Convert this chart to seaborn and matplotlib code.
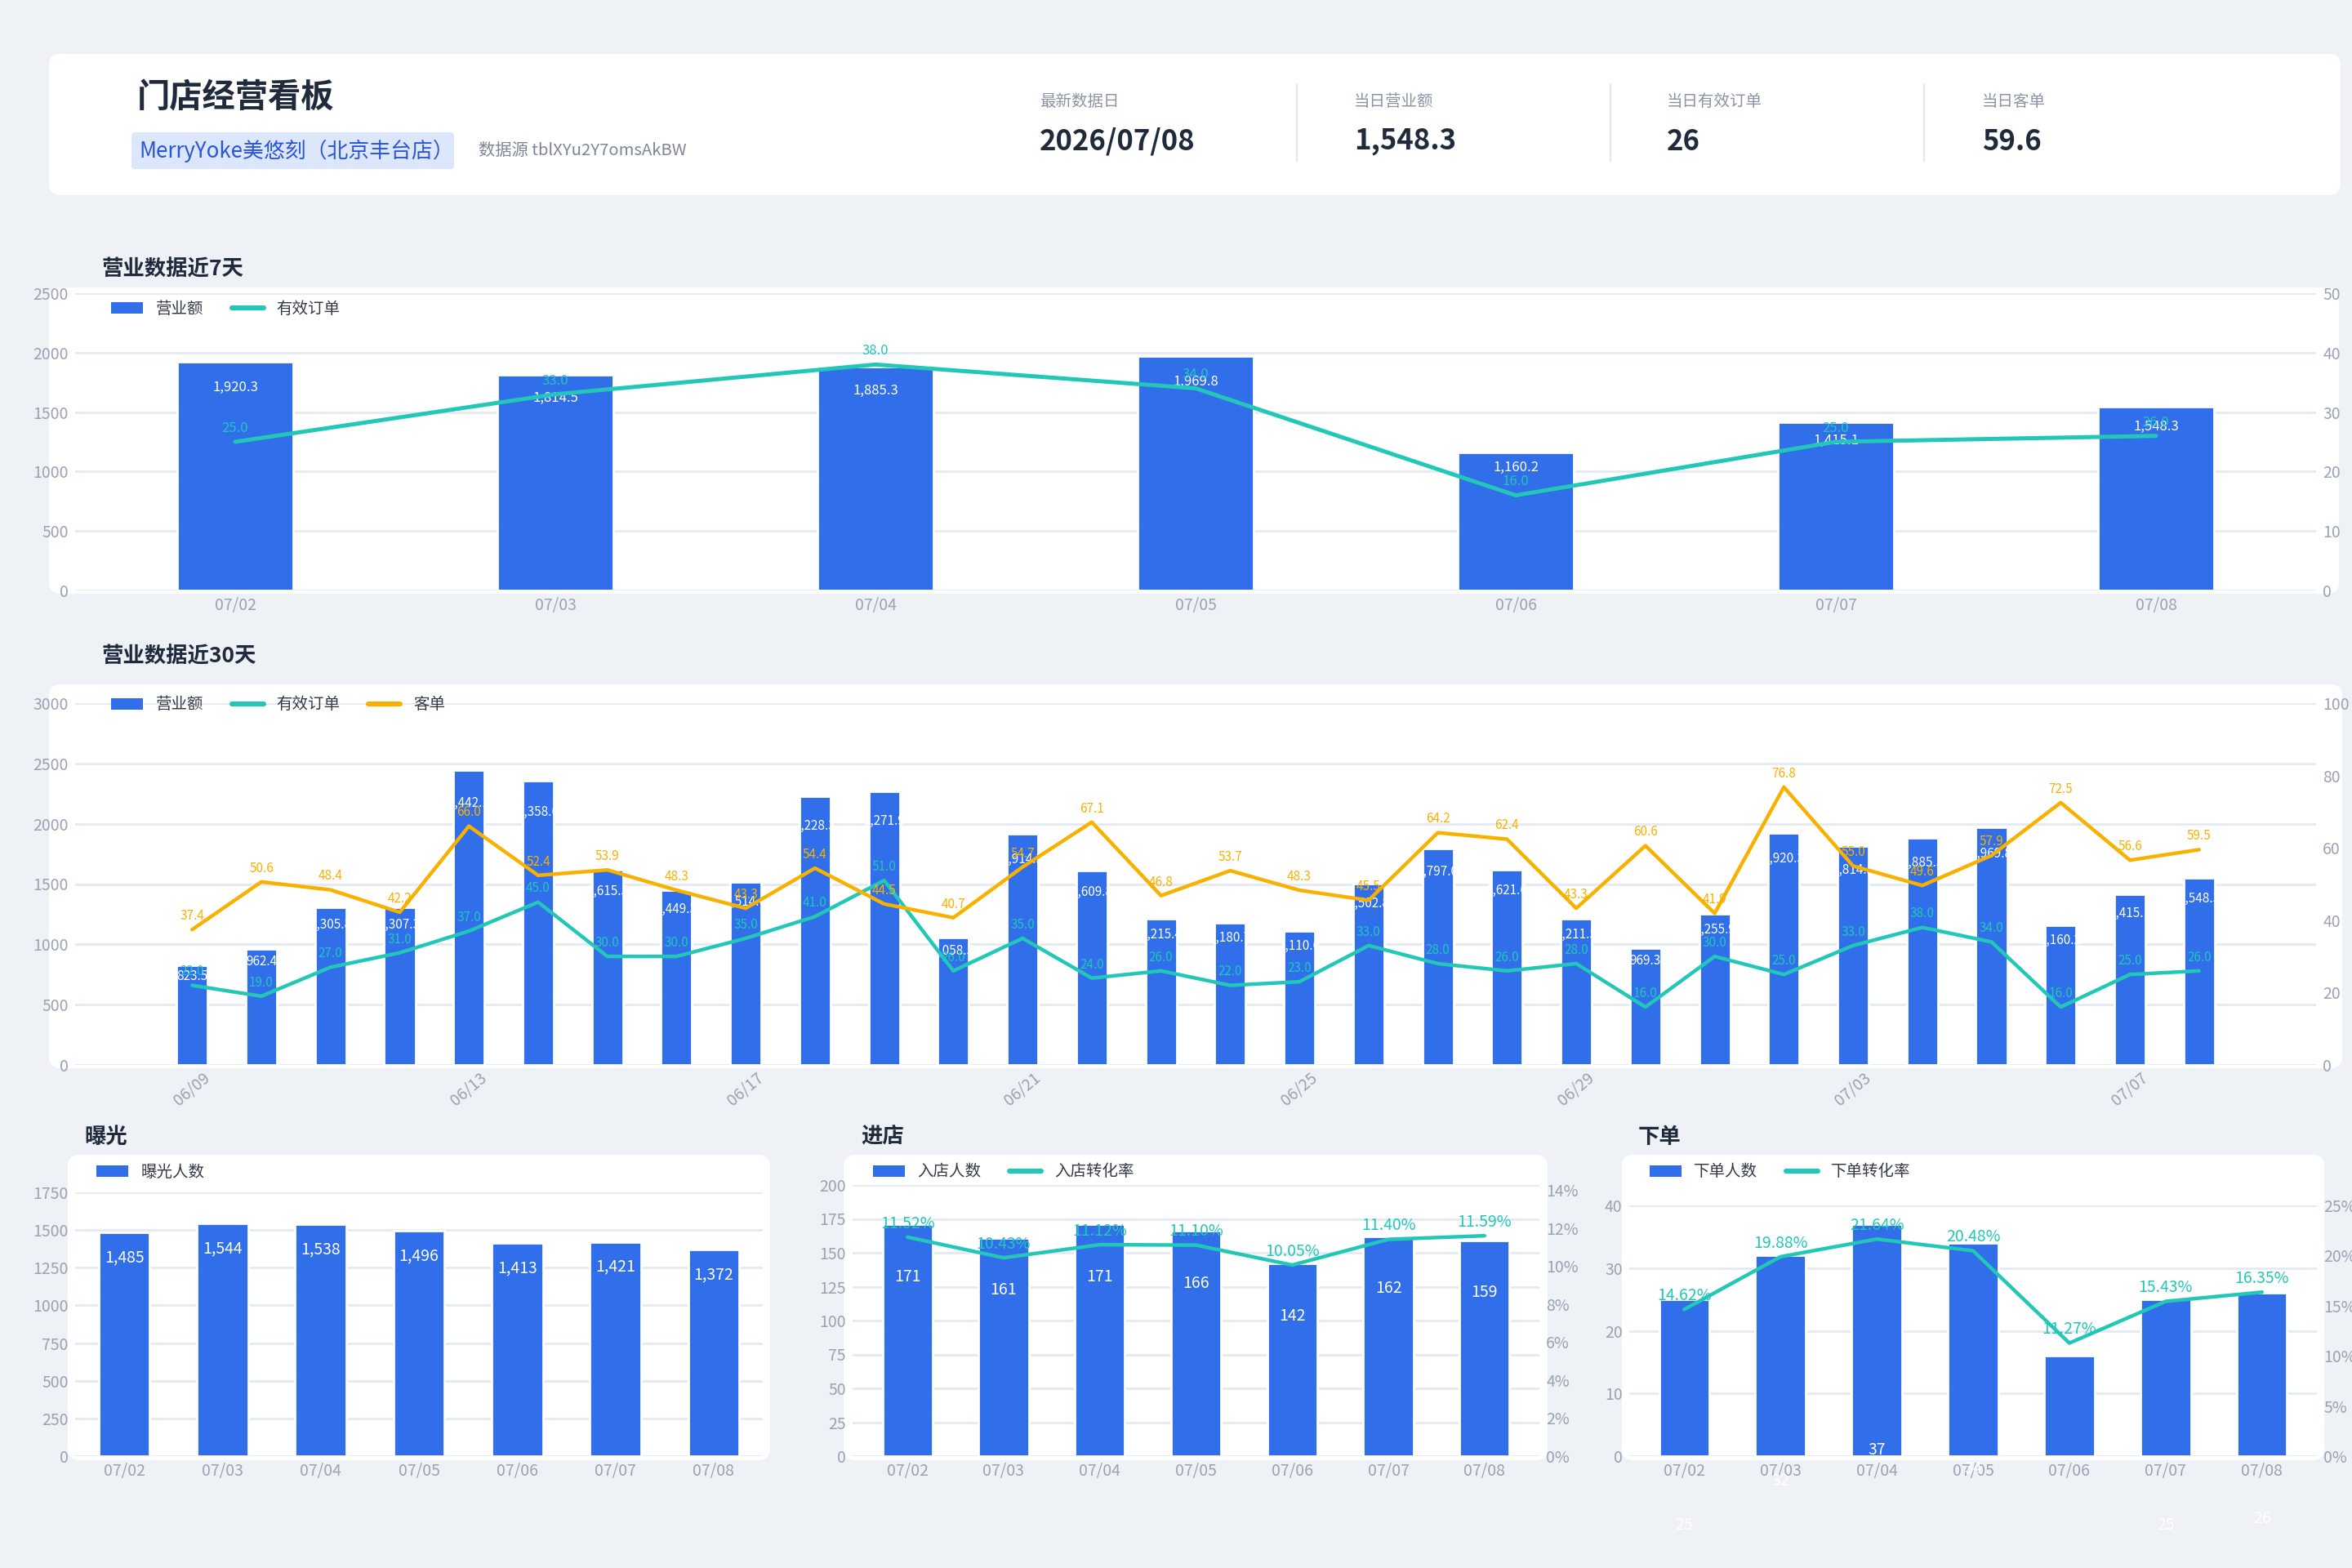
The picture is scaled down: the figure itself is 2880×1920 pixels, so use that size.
import numpy as np
import matplotlib
matplotlib.use("Agg")
import matplotlib.pyplot as plt
import seaborn as sns
from matplotlib.patches import FancyBboxPatch, Patch
from matplotlib.lines import Line2D
from matplotlib.ticker import FuncFormatter

# Data
days7 = ["07/02", "07/03", "07/04", "07/05", "07/06", "07/07", "07/08"]
revenue7 = [1920.3, 1814.5, 1885.3, 1969.8, 1160.2, 1415.1, 1548.3]
orders7 = [25, 33, 38, 34, 16, 25, 26]

days30 = ["06/09", "06/10", "06/11", "06/12", "06/13", "06/14", "06/15", "06/16",
          "06/17", "06/18", "06/19", "06/20", "06/21", "06/22", "06/23", "06/24",
          "06/25", "06/26", "06/27", "06/28", "06/29", "06/30", "07/01", "07/02",
          "07/03", "07/04", "07/05", "07/06", "07/07", "07/08"]
revenue30 = [823.5, 962.4, 1305.8, 1307.3, 2442.1, 2358.6, 1615.5, 1449.3,
             1514.6, 2228.3, 2271.9, 1058.5, 1914.3, 1609.8, 1215.4, 1180.7,
             1110.6, 1502.8, 1797.0, 1621.6, 1211.5, 969.3, 1255.9, 1920.3,
             1814.5, 1885.3, 1969.8, 1160.2, 1415.1, 1548.3]
orders30 = [22, 19, 27, 31, 37, 45, 30, 30, 35, 41, 51, 26, 35, 24, 26, 22,
            23, 33, 28, 26, 28, 16, 30, 25, 33, 38, 34, 16, 25, 26]
price30 = [37.4, 50.6, 48.4, 42.2, 66.0, 52.4, 53.9, 48.3, 43.3, 54.4, 44.5, 40.7,
           54.7, 67.1, 46.8, 53.7, 48.3, 45.5, 64.2, 62.4, 43.3, 60.6, 41.9, 76.8,
           55.0, 49.6, 57.9, 72.5, 56.6, 59.5]

exposure = [1485, 1544, 1538, 1496, 1413, 1421, 1372]
visitors = [171, 161, 171, 166, 142, 162, 159]
visit_rate = [11.52, 10.43, 11.12, 11.10, 10.05, 11.40, 11.59]
buyers = [25, 32, 37, 34, 16, 25, 26]
buy_rate = [14.62, 19.88, 21.64, 20.48, 11.27, 15.43, 16.35]

kpi_labels = ["最新数据日", "当日营业额", "当日有效订单", "当日客单"]
kpi_values = ["2026/07/08", "1,548.3", "26", "59.6"]

# Colours
BG = "#EEF1F6"
BLUE = "#306EEA"
TEAL = "#22C7B8"
ORANGE = "#F8B100"
GRID = "#E5EAF2"
TICK = "#9AA2B3"
DARK = "#1F2A3C"
GRAY = "#7D8696"

sns.set_theme(style="white")
plt.rcParams["font.family"] = ["Noto Sans CJK SC", "DejaVu Sans"]
plt.rcParams["axes.unicode_minus"] = False

W, H = 2880, 1920
fig = plt.figure(figsize=(14.4, 9.6), dpi=200, facecolor=BG)


def box(x0, y0, x1, y1):
    return [x0 / W, 1 - y1 / H, (x1 - x0) / W, (y1 - y0) / H]


def card(x0, y0, x1, y1, color="white", r=14):
    p = FancyBboxPatch((x0 / 200, (H - y1) / 200), (x1 - x0) / 200, (y1 - y0) / 200,
                       boxstyle=f"round,pad=0,rounding_size={r / 200}",
                       transform=fig.dpi_scale_trans, fc=color, ec="none", zorder=-5)
    fig.patches.append(p)


def ftext(x, y, s, **kw):
    fig.text(x / W, 1 - y / H, s, va="center", ha="left", **kw)


def legend(items, x, y):
    handles = []
    for kind, color, label in items:
        if kind == "bar":
            handles.append(Patch(facecolor=color, edgecolor="none", label=label))
        else:
            handles.append(Line2D([], [], color=color, lw=2.2, label=label))
    fig.legend(handles=handles, loc="center left", bbox_to_anchor=(x / W, 1 - y / H),
               ncol=len(items), frameon=False, fontsize=7, handlelength=2.0,
               handleheight=0.75, handletextpad=0.8, columnspacing=1.8,
               borderpad=0, borderaxespad=0, labelcolor="#333A45")


def style(ax, ymax, step, grid=True):
    ax.set_facecolor("none")
    ax.set_ylim(0, ymax)
    ticks = np.arange(0, ymax + 1e-9, step)
    ax.set_yticks(ticks)
    ax.grid(False)
    if grid:
        for t in ticks:
            ax.axhline(t, color=GRID, lw=1.0, zorder=0.2)
    for bar in ax.patches:
        bar.set_zorder(3)
        bar.set_alpha(1)
    for s in ax.spines.values():
        s.set_visible(False)
    ax.tick_params(length=0, labelsize=7, colors=TICK, pad=3)
    ax.set_xlabel("")
    ax.set_ylabel("")


# Header
card(60, 66, 2866, 239)
ftext(168, 120, "门店经营看板", fontsize=14.5, fontweight="bold", color=DARK)
card(161, 162, 556, 207, color="#DCE7FC", r=4)
ftext(170, 185, "MerryYoke美悠刻（北京丰台店）", fontsize=9.3, color="#2A55D8")
ftext(586, 185, "数据源 tblXYu2Y7omsAkBW", fontsize=7.3, color=GRAY)
for x, lab, val in zip([1273, 1658, 2041, 2427], kpi_labels, kpi_values):
    ftext(x, 125, lab, fontsize=7, color="#8A93A3")
    ftext(x, 173, val, fontsize=12.5, fontweight="bold", color=DARK)
for x in [1588, 1972, 2356]:
    fig.add_artist(Line2D([x / W, x / W], [1 - 103 / H, 1 - 197 / H],
                          transform=fig.transFigure, color="#E3E8EF", lw=0.8))

# Section titles and cards
for s, x, y in [("营业数据近7天", 125, 330), ("营业数据近30天", 125, 804),
                ("曝光", 103, 1392), ("进店", 1054, 1392), ("下单", 2006, 1392)]:
    ftext(x, y, s, fontsize=9.5, fontweight="bold", color=DARK)
card(60, 352, 2864, 727)
card(60, 838, 2868, 1308)
card(83, 1414, 943, 1788)
card(1033, 1414, 1895, 1788)
card(1986, 1414, 2846, 1788)

# 营业数据近7天
ax = fig.add_axes(box(92, 359, 2836, 723))
sns.barplot(x=days7, y=revenue7, color=BLUE, width=0.36, saturation=1, ax=ax)
style(ax, 2500, 500)
ax.set_xlim(-0.5, 6.5)
ax.tick_params(axis="x", pad=3)
for i, v in enumerate(revenue7):
    ax.text(i, v * 0.89, f"{v:,.1f}", ha="center", va="center", color="white",
            fontsize=6, zorder=4)
ax2 = ax.twinx()
sns.lineplot(x=np.arange(len(orders7)), y=orders7, color=TEAL, lw=1.8, ax=ax2)
style(ax2, 50, 10, grid=False)
for i, v in enumerate(orders7):
    ax2.annotate(f"{v:.1f}", (i, v), xytext=(0, 6), textcoords="offset points",
                 ha="center", va="center", color=TEAL, fontsize=6)
ax.set_xlim(-0.5, 6.5)
legend([("bar", BLUE, "营业额"), ("line", TEAL, "有效订单")], 136, 378)

# 营业数据近30天
ax = fig.add_axes(box(92, 861, 2836, 1304))
sns.barplot(x=days30, y=revenue30, color=BLUE, width=0.45, saturation=1, ax=ax)
style(ax, 3000, 500)
for i, v in enumerate(revenue30):
    ax.text(i, v * 0.89, f"{v:,.1f}", ha="center", va="center", color="white",
            fontsize=5.5, zorder=4)
ax2 = ax.twinx()
sns.lineplot(x=np.arange(len(orders30)), y=orders30, color=TEAL, lw=1.6, ax=ax2)
sns.lineplot(x=np.arange(len(price30)), y=price30, color=ORANGE, lw=1.6, ax=ax2)
style(ax2, 100, 20, grid=False)
for i, v in enumerate(orders30):
    ax2.annotate(f"{v:.1f}", (i, v), xytext=(0, 6), textcoords="offset points",
                 ha="center", va="center", color=TEAL, fontsize=5.5)
for i, v in enumerate(price30):
    ax2.annotate(f"{v:.1f}", (i, v), xytext=(0, 6), textcoords="offset points",
                 ha="center", va="center", color=ORANGE, fontsize=5.5)
ax.set_xlim(-1.69, len(days30) - 1 + 1.69)
ax.set_xticks(range(0, len(days30), 4))
ax.set_xticklabels(days30[::4], rotation=40, ha="center")
ax.tick_params(axis="x", pad=2)
legend([("bar", BLUE, "营业额"), ("line", TEAL, "有效订单"), ("line", ORANGE, "客单")], 136, 863)

# 曝光
ax = fig.add_axes(box(92, 1460, 934, 1783))
sns.barplot(x=days7, y=exposure, color=BLUE, width=0.52, saturation=1, ax=ax)
style(ax, 1750, 250)
ax.set_xlim(-0.5, 6.5)
for i, v in enumerate(exposure):
    ax.annotate(f"{v:,}", (i, v), xytext=(0, -11), textcoords="offset points",
                ha="center", va="center", color="white", fontsize=7, zorder=4)
legend([("bar", BLUE, "曝光人数")], 118, 1435)

# 进店
ax = fig.add_axes(box(1044, 1451, 1885, 1783))
sns.barplot(x=days7, y=visitors, color=BLUE, width=0.52, saturation=1, ax=ax)
style(ax, 200, 25)
for i, v in enumerate(visitors):
    ax.annotate(f"{v}", (i, v), xytext=(0, -23), textcoords="offset points",
                ha="center", va="center", color="white", fontsize=7, zorder=4)
ax2 = ax.twinx()
sns.lineplot(x=np.arange(len(visit_rate)), y=visit_rate, color=TEAL, lw=1.6, ax=ax2)
style(ax2, 14.26, 2, grid=False)
ax2.set_yticks(np.arange(0, 15, 2))
ax2.yaxis.set_major_formatter(FuncFormatter(lambda v, p: f"{v:.0f}%"))
for i, v in enumerate(visit_rate):
    ax2.annotate(f"{v:.2f}%", (i, v), xytext=(0, 6), textcoords="offset points",
                 ha="center", va="center", color=TEAL, fontsize=7)
ax.set_xlim(-0.57, 6.57)
legend([("bar", BLUE, "入店人数"), ("line", TEAL, "入店转化率")], 1069, 1435)

# 下单
ax = fig.add_axes(box(1995, 1476, 2837, 1783))
sns.barplot(x=days7, y=buyers, color=BLUE, width=0.52, saturation=1, ax=ax)
style(ax, 40, 10)
for i, v in enumerate(buyers):
    ax.text(i, v - 36, f"{v}", ha="center", va="center", color="white",
            fontsize=7, clip_on=False, zorder=4)
ax2 = ax.twinx()
sns.lineplot(x=np.arange(len(buy_rate)), y=buy_rate, color=TEAL, lw=1.6, ax=ax2)
style(ax2, 25, 5, grid=False)
ax2.yaxis.set_major_formatter(FuncFormatter(lambda v, p: f"{v:.0f}%"))
for i, v in enumerate(buy_rate):
    ax2.annotate(f"{v:.2f}%", (i, v), xytext=(0, 6), textcoords="offset points",
                 ha="center", va="center", color=TEAL, fontsize=7)
ax.set_xlim(-0.57, 6.57)
legend([("bar", BLUE, "下单人数"), ("line", TEAL, "下单转化率")], 2020, 1435)

fig.savefig("out.png", dpi=200, facecolor=BG)
